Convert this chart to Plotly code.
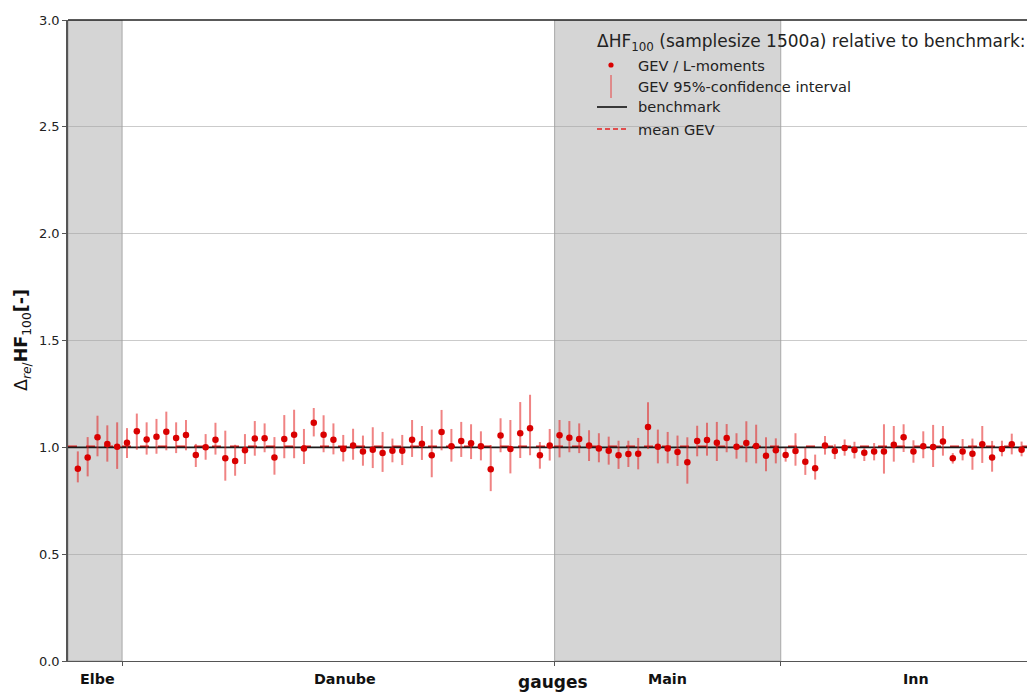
import plotly.graph_objects as go

# Gauges grouped by river basin (ordered along the x axis)
basins = ["Elbe", "Danube", "Main", "Inn"]
basin_counts = [5, 44, 23, 25]
shaded_basins = ["Elbe", "Main"]

# HF100 ratio (GEV / L-moments estimate relative to benchmark) per gauge
ratio = [
    0.900, 0.952, 1.047, 1.016, 1.003, 1.022, 1.075, 1.037, 1.050, 1.073,
    1.044, 1.058, 0.964, 1.000, 1.036, 0.949, 0.936, 0.986, 1.041, 1.042,
    0.953, 1.039, 1.059, 0.995, 1.115, 1.059, 1.036, 0.992, 1.008, 0.980,
    0.989, 0.973, 0.984, 0.984, 1.036, 1.017, 0.963, 1.072, 1.005, 1.030,
    1.019, 1.005, 0.897, 1.055, 0.992, 1.066, 1.089, 0.963, 1.008, 1.056,
    1.045, 1.039, 1.008, 0.995, 0.984, 0.963, 0.969, 0.970, 1.095, 1.003,
    0.995, 0.978, 0.930, 1.030, 1.034, 1.022, 1.044, 1.003, 1.020, 1.006,
    0.961, 0.986, 0.964, 0.983, 0.933, 0.902, 1.008, 0.983, 0.997, 0.988,
    0.975, 0.981, 0.981, 1.012, 1.047, 0.981, 1.005, 1.002, 1.027, 0.949,
    0.981, 0.970, 1.014, 0.953, 0.992, 1.014, 0.989,
]

# Upper / lower bound of the GEV 95%-confidence interval
ci_high = [
    0.981, 1.048, 1.148, 1.103, 1.117, 1.090, 1.158, 1.117, 1.133, 1.167,
    1.117, 1.128, 1.016, 1.062, 1.115, 1.078, 1.012, 1.062, 1.123, 1.112,
    1.048, 1.151, 1.176, 1.086, 1.184, 1.150, 1.112, 1.058, 1.087, 1.055,
    1.094, 1.072, 1.041, 1.058, 1.128, 1.100, 1.083, 1.175, 1.086, 1.119,
    1.108, 1.075, 1.011, 1.136, 1.128, 1.212, 1.246, 1.025, 1.086, 1.128,
    1.123, 1.112, 1.080, 1.066, 1.050, 1.031, 1.031, 1.044, 1.211, 1.083,
    1.072, 1.055, 1.047, 1.101, 1.115, 1.119, 1.109, 1.066, 1.122, 1.106,
    1.047, 1.042, 0.998, 1.066, 0.998, 0.966, 1.053, 1.014, 1.037, 1.026,
    0.997, 1.020, 1.108, 1.100, 1.108, 1.033, 1.075, 1.105, 1.100, 0.973,
    1.039, 1.041, 1.100, 1.030, 1.031, 1.064, 1.027,
]
ci_low = [
    0.836, 0.864, 0.958, 0.933, 0.899, 0.950, 0.989, 0.966, 0.970, 0.986,
    0.973, 0.986, 0.908, 0.942, 0.966, 0.844, 0.867, 0.922, 0.961, 0.977,
    0.872, 0.949, 0.949, 0.922, 1.051, 0.977, 0.967, 0.934, 0.942, 0.914,
    0.903, 0.885, 0.930, 0.917, 0.955, 0.941, 0.860, 0.986, 0.933, 0.955,
    0.945, 0.939, 0.795, 0.977, 0.878, 0.950, 0.963, 0.900, 0.938, 0.953,
    0.977, 0.973, 0.936, 0.930, 0.919, 0.899, 0.908, 0.897, 0.992, 0.925,
    0.925, 0.913, 0.830, 0.958, 0.961, 0.936, 0.977, 0.947, 0.930, 0.925,
    0.888, 0.925, 0.933, 0.914, 0.871, 0.849, 0.966, 0.945, 0.961, 0.948,
    0.936, 0.939, 0.877, 0.933, 0.978, 0.928, 0.949, 0.908, 0.961, 0.924,
    0.939, 0.895, 0.927, 0.886, 0.958, 0.967, 0.958,
]

benchmark = 1.0
y_ticks = [0.0, 0.5, 1.0, 1.5, 2.0, 2.5, 3.0]

# ---- derived quantities -------------------------------------------------
gauge_idx = list(range(1, len(ratio) + 1))
err_plus = [h - v for h, v in zip(ci_high, ratio)]
err_minus = [v - l for v, l in zip(ratio, ci_low)]
mean_gev = sum(ratio) / len(ratio)

# basin boundaries sit half-way between neighbouring gauges
edges = [0.0]
total = 0
for n in basin_counts:
    total += n
    edges.append(total + 0.5)
X_MAX = 97.55

# figure geometry (pixels) used to place the hand-made legend
W, H = 1027, 692
ML, MR, MT, MB = 68, 0, 20, 31
PW, PH = W - ML - MR, H - MT - MB


def px(x):
    return (x - ML) / PW


def py(y):
    return (H - MB - y) / PH


RED = "#d90000"
CI_RED = "rgba(228,30,30,0.55)"
FONT = "DejaVu Sans"

fig = go.Figure()

# mean of the GEV estimates (dashed) and benchmark line
fig.add_trace(go.Scatter(
    x=[0, X_MAX], y=[mean_gev, mean_gev], mode="lines",
    line=dict(color="#e32020", width=2.2, dash="dash"),
    hoverinfo="skip", showlegend=False,
))
fig.add_trace(go.Scatter(
    x=[0, X_MAX], y=[benchmark, benchmark], mode="lines",
    line=dict(color="#1a1a1a", width=1.6),
    hoverinfo="skip", showlegend=False,
))

# GEV estimates with confidence intervals
fig.add_trace(go.Scatter(
    x=gauge_idx, y=ratio, mode="markers",
    marker=dict(color=RED, size=6.5, line=dict(width=0)),
    error_y=dict(type="data", symmetric=False, array=err_plus,
                 arrayminus=err_minus, color=CI_RED, thickness=2, width=0),
    showlegend=False,
))

shapes = []
# shaded basin regions
for i, name in enumerate(basins):
    if name in shaded_basins:
        shapes.append(dict(type="rect", xref="x", yref="y",
                           x0=edges[i], x1=edges[i + 1], y0=0, y1=3,
                           fillcolor="#d5d5d5",
                           line=dict(color="#a8a8a8", width=1), layer="below"))

# top frame line
shapes.append(dict(type="line", xref="paper", yref="paper", x0=0, x1=1,
                   y0=1, y1=1, line=dict(color="#222222", width=1.3)))

# legend glyphs
shapes.append(dict(type="circle", xref="paper", yref="paper",
                   xsizemode="pixel", ysizemode="pixel",
                   xanchor=px(611), yanchor=py(65),
                   x0=-2.6, x1=2.6, y0=-2.6, y1=2.6,
                   fillcolor=RED, line=dict(width=0)))
shapes.append(dict(type="line", xref="paper", yref="paper",
                   x0=px(611), x1=px(611), y0=py(75), y1=py(98),
                   line=dict(color="#e84040", width=1)))
shapes.append(dict(type="line", xref="paper", yref="paper",
                   x0=px(597), x1=px(627), y0=py(107), y1=py(107),
                   line=dict(color="#111111", width=1.6)))
shapes.append(dict(type="line", xref="paper", yref="paper",
                   x0=px(597), x1=px(627), y0=py(129), y1=py(129),
                   line=dict(color="#e32020", width=1.6, dash="5px,3px")))

annotations = []
annotations.append(dict(
    xref="paper", yref="paper", x=px(595), y=py(42), xanchor="left",
    yanchor="middle", showarrow=False,
    text="ΔHF<sub>100</sub> (samplesize 1500a) relative to benchmark:",
    font=dict(family=FONT, size=17, color="#222222")))
for label, ypix in [("GEV / L-moments", 65),
                    ("GEV 95%-confidence interval", 86),
                    ("benchmark", 107), ("mean GEV", 129)]:
    annotations.append(dict(
        xref="paper", yref="paper", x=px(636), y=py(ypix), xanchor="left",
        yanchor="middle", showarrow=False, text=label,
        font=dict(family=FONT, size=14.6, color="#222222")))

# basin names under the axis
label_pos = {"Elbe": 2.95, "Danube": 28.2, "Main": 61.0, "Inn": 86.3}
for name in basins:
    annotations.append(dict(
        xref="x", yref="paper", x=label_pos[name], y=py(679),
        xanchor="center", yanchor="middle", showarrow=False,
        text=f"<b>{name}</b>",
        font=dict(family=FONT, size=14.3, color="#111111")))

annotations.append(dict(
    xref="paper", yref="paper", x=px(553), y=py(682), xanchor="center",
    yanchor="middle", showarrow=False, text="<b>gauges</b>",
    font=dict(family=FONT, size=17, color="#111111")))

annotations.append(dict(
    xref="paper", yref="paper", x=px(22), y=py(340), xanchor="center",
    yanchor="middle", showarrow=False, textangle=-90,
    text="Δ<sub><i>re</i>/</sub><b>HF</b><sub>100</sub><b>[-]</b>",
    font=dict(family=FONT, size=17.5, color="#111111")))

fig.update_layout(
    width=W, height=H,
    margin=dict(l=ML, r=MR, t=MT, b=MB, pad=0),
    paper_bgcolor="white", plot_bgcolor="white",
    showlegend=False,
    shapes=shapes, annotations=annotations,
    font=dict(family=FONT, size=13, color="#222222"),
)
fig.update_xaxes(
    range=[0, X_MAX], showgrid=False, zeroline=False,
    showline=True, linecolor="#555555", linewidth=1.3,
    tickmode="array", tickvals=edges[1:-1], showticklabels=False,
    ticks="outside", ticklen=4, tickcolor="#555555",
)
fig.update_yaxes(
    range=[0, 3], tickmode="array", tickvals=y_ticks,
    ticktext=[f"{t:.1f}" for t in y_ticks],
    showgrid=True, gridcolor="rgba(160,160,160,0.55)", gridwidth=1,
    zeroline=False, showline=True, linecolor="#555555", linewidth=1.5,
    ticks="outside", ticklen=4, tickcolor="#555555",
    tickfont=dict(family=FONT, size=13, color="#222222"),
)

fig.write_html("out.html")
